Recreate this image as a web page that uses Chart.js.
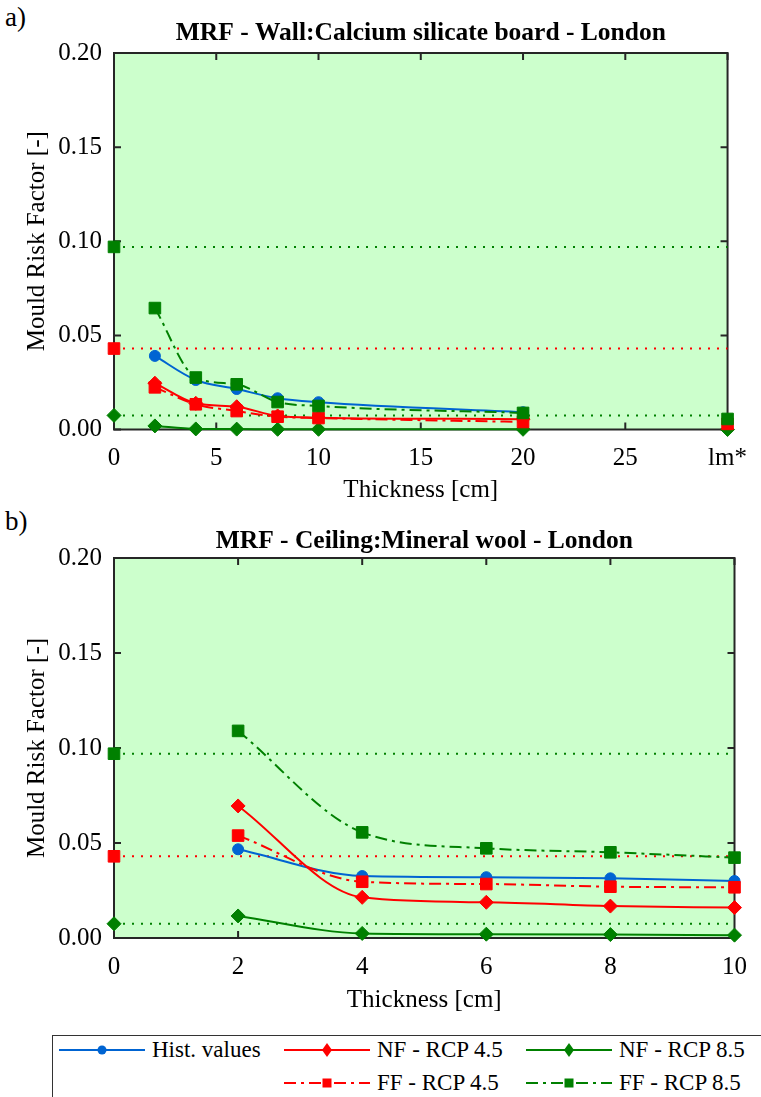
<!DOCTYPE html>
<html>
<head>
<meta charset="utf-8">
<script src="https://cdn.jsdelivr.net/npm/chart.js@4.4.1/dist/chart.umd.min.js"></script>
<style>
  html, body { margin: 0; padding: 0; background: #fff; }
  body { width: 761px; height: 1097px; position: relative; overflow: hidden;
         font-family: 'Liberation Serif', 'Times New Roman', serif; color: #000; }
  canvas { position: absolute; left: 0; }
  #wallChart { top: 0; }
  #ceilChart { top: 505px; }
  .panel { position: absolute; left: 5px; font-size: 27px; line-height: 1; }
  #legend { position: absolute; left: 52px; top: 1035px; width: 730px; height: 90px;
            border: 1px solid #333; background: #fff; }
  .item { position: absolute; height: 26px; display: flex; align-items: center;
          font-size: 23px; white-space: nowrap; }
  .item svg { margin-right: 7px; }
</style>
</head>
<body>
<div class="panel" style="top:4px">a)</div>
<div class="panel" style="top:508px">b)</div>
<canvas id="wallChart" width="761" height="505"></canvas>
<canvas id="ceilChart" width="761" height="510"></canvas>
<div id="legend"></div>

<script>
// ---- Wall: calcium silicate board ----
const wallThickness = [2, 4, 6, 8, 10, 20];
const wallHist = [0.0391, 0.0263, 0.0215, 0.0166, 0.0145, 0.0092];
const wallNF45 = [0.0246, 0.0139, 0.0121, 0.0072, 0.0063, 0.0055];
const wallNF85 = [0.0019, 0.0003, 0.0002, 0.0001, 0.0001, 0.0001];
const wallFF45 = [0.0224, 0.0134, 0.0098, 0.0068, 0.0061, 0.0040];
const wallFF85 = [0.0645, 0.0276, 0.0240, 0.0146, 0.0125, 0.0088];
// values at the "lm*" position
const wallLmPos = 30;
const wallLmFF45 = 0.0030;
const wallLmNF85 = 0.0000;
const wallLmFF85 = 0.0056;
const wallXTicks = [0, 5, 10, 15, 20, 25, 30];
const wallXTickLabels = ['0', '5', '10', '15', '20', '25', 'lm*'];

// ---- Ceiling: mineral wool ----
const ceilThickness = [2, 4, 6, 8, 10];
const ceilHist = [0.0467, 0.0326, 0.0320, 0.0314, 0.0300];
const ceilNF45 = [0.0695, 0.0214, 0.0188, 0.0168, 0.0160];
const ceilNF85 = [0.0116, 0.0024, 0.0020, 0.0018, 0.0015];
const ceilFF45 = [0.0539, 0.0296, 0.0284, 0.0270, 0.0267];
const ceilFF85 = [0.1090, 0.0556, 0.0472, 0.0451, 0.0423];
const ceilXTicks = [0, 2, 4, 6, 8, 10];
const ceilXTickLabels = ['0', '2', '4', '6', '8', '10'];

// uninsulated reference levels (thickness 0)
const refNF85 = 0.0075;
const refFF45 = 0.043;
const refFF85 = 0.097;

const yTicks = [0, 0.05, 0.10, 0.15, 0.20];
const yTickLabels = ['0.00', '0.05', '0.10', '0.15', '0.20'];

const FONT = "'Liberation Serif', 'Times New Roman', serif";
const BLUE = '#0064d2';
const RED = '#ff0000';
const GREEN = '#008000';
const AXIS = '#262626';
const BG = '#ccffcc';
const SOLID = [];
const DASHDOT = [12, 5, 3, 5];
const DOTTED = [2, 7];

function series(label, xs, ys, color, dash, style, radius, order) {
  return {
    label,
    data: xs.map((x, i) => ({ x, y: ys[i] })),
    borderColor: color, backgroundColor: color,
    borderWidth: 2, borderDash: dash,
    pointStyle: style, pointRadius: radius, pointHoverRadius: radius,
    pointBorderWidth: 1, pointBorderColor: color, pointBackgroundColor: color,
    cubicInterpolationMode: 'monotone', fill: false, clip: false, order
  };
}

function refLine(value, xMax, color, style, radius, order) {
  return {
    data: [{ x: 0, y: value }, { x: xMax, y: value }],
    borderColor: color, backgroundColor: color,
    borderWidth: 2, borderDash: DOTTED, borderCapStyle: 'butt',
    pointStyle: style, pointRadius: [radius, 0], pointHoverRadius: [radius, 0],
    pointBorderWidth: 1, pointBorderColor: color, pointBackgroundColor: color,
    tension: 0, fill: false, clip: false, order
  };
}

function marker(x, value, color, style, radius, order) {
  return {
    data: [{ x, y: value }], showLine: false,
    borderColor: color, backgroundColor: color,
    pointStyle: style, pointRadius: radius, pointHoverRadius: radius,
    pointBorderWidth: 1, pointBorderColor: color, pointBackgroundColor: color,
    clip: false, order
  };
}

// green background, box frame and inward ticks on all four sides
const plotFrame = {
  id: 'plotFrame',
  beforeDraw(chart) {
    const { ctx, chartArea: a } = chart;
    ctx.save();
    ctx.fillStyle = BG;
    ctx.fillRect(a.left, a.top, a.right - a.left, a.bottom - a.top);
    ctx.restore();
  },
  beforeDatasetsDraw(chart) {
    const { ctx, chartArea: a, scales } = chart;
    const len = 7;
    ctx.save();
    ctx.strokeStyle = AXIS;
    ctx.lineWidth = 2;
    ctx.beginPath();
    scales.x.ticks.forEach(t => {
      const px = scales.x.getPixelForValue(t.value);
      ctx.moveTo(px, a.bottom); ctx.lineTo(px, a.bottom - len);
      ctx.moveTo(px, a.top); ctx.lineTo(px, a.top + len);
    });
    scales.y.ticks.forEach(t => {
      const py = scales.y.getPixelForValue(t.value);
      ctx.moveTo(a.left, py); ctx.lineTo(a.left + len, py);
      ctx.moveTo(a.right, py); ctx.lineTo(a.right - len, py);
    });
    ctx.stroke();
    ctx.strokeRect(a.left, a.top, a.right - a.left, a.bottom - a.top);
    ctx.restore();
  }
};

function options(cfg) {
  return {
    responsive: false, animation: false, devicePixelRatio: 1,
    layout: { padding: { left: 0, right: cfg.padRight, top: 0, bottom: 0 } },
    plugins: {
      legend: { display: false },
      tooltip: { enabled: false },
      title: {
        display: true, text: cfg.title, color: '#000', fullSize: false,
        font: { family: FONT, size: 25.5, weight: 'bold', lineHeight: '22px' },
        padding: { top: cfg.titleTop, bottom: cfg.titleBottom }
      }
    },
    scales: {
      x: {
        type: 'linear', min: 0, max: cfg.xMax,
        afterBuildTicks: s => { s.ticks = cfg.xTicks.map(v => ({ value: v })); },
        afterFit: s => { s.height = cfg.xAxisHeight; },
        grid: { display: false, drawTicks: false },
        border: { display: false },
        ticks: {
          color: '#000', padding: 14, maxRotation: 0, autoSkip: false,
          font: { family: FONT, size: 25 },
          callback: (v, i) => cfg.xLabels[i]
        },
        title: {
          display: true, text: 'Thickness [cm]', color: '#000',
          font: { family: FONT, size: 25 }, padding: { top: 0, bottom: 0 }
        }
      },
      y: {
        type: 'linear', min: 0, max: 0.2,
        afterBuildTicks: s => { s.ticks = yTicks.map(v => ({ value: v })); },
        afterFit: s => { s.width = 114; },
        grid: { display: false, drawTicks: false },
        border: { display: false },
        ticks: {
          color: '#000', padding: 12,
          font: { family: FONT, size: 25 },
          callback: (v, i) => yTickLabels[i]
        },
        title: {
          display: true, text: 'Mould Risk Factor [-]', color: '#000',
          font: { family: FONT, size: 25 }, padding: { top: 22, bottom: 0 }
        }
      }
    }
  };
}

function datasets(xs, hist, nf45, nf85, ff45, ff85, xMax) {
  return [
    series('FF - RCP 8.5', xs, ff85, GREEN, DASHDOT, 'rect', 8.2, 0),
    series('FF - RCP 4.5', xs, ff45, RED, DASHDOT, 'rect', 8.2, 1),
    series('NF - RCP 8.5', xs, nf85, GREEN, SOLID, 'rectRot', 7, 2),
    series('NF - RCP 4.5', xs, nf45, RED, SOLID, 'rectRot', 7, 3),
    series('Hist. values', xs, hist, BLUE, SOLID, 'circle', 5.5, 4),
    refLine(refFF85, xMax, GREEN, 'rect', 8.2, 5),
    refLine(refFF45, xMax, RED, 'rect', 8.2, 6),
    refLine(refNF85, xMax, GREEN, 'rectRot', 7, 7)
  ];
}

const wallSets = datasets(wallThickness, wallHist, wallNF45, wallNF85, wallFF45, wallFF85, wallLmPos);
wallSets.push(
  marker(wallLmPos, wallLmFF85, GREEN, 'rect', 8.2, 0),
  marker(wallLmPos, wallLmFF45, RED, 'rect', 8.2, 1),
  marker(wallLmPos, wallLmNF85, GREEN, 'rectRot', 7, 2)
);

new Chart(document.getElementById('wallChart'), {
  type: 'line',
  data: { datasets: wallSets },
  options: options({
    title: 'MRF - Wall:Calcium silicate board - London',
    titleTop: 22, titleBottom: 9, padRight: 20, xAxisHeight: 75.5,
    xMax: wallLmPos, xTicks: wallXTicks, xLabels: wallXTickLabels
  }),
  plugins: [plotFrame]
});

new Chart(document.getElementById('ceilChart'), {
  type: 'line',
  data: { datasets: datasets(ceilThickness, ceilHist, ceilNF45, ceilNF85, ceilFF45, ceilFF85, 10) },
  options: options({
    title: 'MRF - Ceiling:Mineral wool - London',
    titleTop: 25, titleBottom: 6, padRight: 14.5, xAxisHeight: 77,
    xMax: 10, xTicks: ceilXTicks, xLabels: ceilXTickLabels
  }),
  plugins: [plotFrame]
});

// legend: line sample with marker, then the series name
const legendItems = [
  { text: 'Hist. values', color: BLUE, dash: '', shape: 'circle', left: 6, top: 1 },
  { text: 'NF - RCP 4.5', color: RED, dash: '', shape: 'diamond', left: 231, top: 1 },
  { text: 'NF - RCP 8.5', color: GREEN, dash: '', shape: 'diamond', left: 473, top: 1 },
  { text: 'FF - RCP 4.5', color: RED, dash: '12 5 3 5', shape: 'square', left: 231, top: 34 },
  { text: 'FF - RCP 8.5', color: GREEN, dash: '12 5 3 5', shape: 'square', left: 473, top: 34 }
];
const NS = 'http://www.w3.org/2000/svg';
const legend = document.getElementById('legend');
legendItems.forEach(it => {
  const div = document.createElement('div');
  div.className = 'item';
  div.style.left = it.left + 'px';
  div.style.top = it.top + 'px';
  const svg = document.createElementNS(NS, 'svg');
  svg.setAttribute('width', '86'); svg.setAttribute('height', '20');
  const line = document.createElementNS(NS, 'line');
  line.setAttribute('x1', '0'); line.setAttribute('x2', '86');
  line.setAttribute('y1', '10'); line.setAttribute('y2', '10');
  line.setAttribute('stroke', it.color); line.setAttribute('stroke-width', '2');
  if (it.dash) line.setAttribute('stroke-dasharray', it.dash);
  svg.appendChild(line);
  let m;
  if (it.shape === 'circle') {
    m = document.createElementNS(NS, 'circle');
    m.setAttribute('cx', '43'); m.setAttribute('cy', '10'); m.setAttribute('r', '4.5');
  } else if (it.shape === 'diamond') {
    m = document.createElementNS(NS, 'polygon');
    m.setAttribute('points', '43,3 48,10 43,17 38,10');
  } else {
    m = document.createElementNS(NS, 'rect');
    m.setAttribute('x', '38.5'); m.setAttribute('y', '5.5');
    m.setAttribute('width', '9'); m.setAttribute('height', '9');
  }
  m.setAttribute('fill', it.color);
  svg.appendChild(m);
  div.appendChild(svg);
  const span = document.createElement('span');
  span.textContent = it.text;
  div.appendChild(span);
  legend.appendChild(div);
});
</script>
</body>
</html>
